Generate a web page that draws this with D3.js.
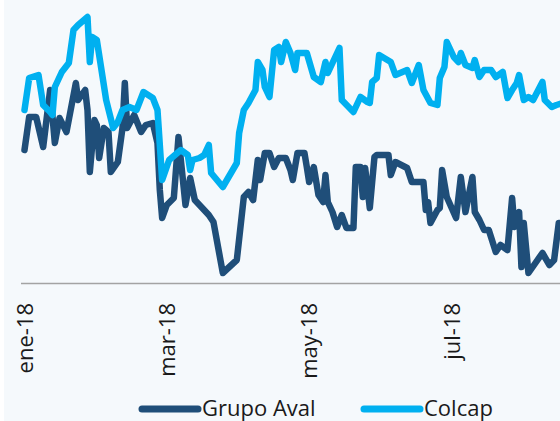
<!DOCTYPE html>
<html>
<head>
<meta charset="utf-8">
<script src="https://cdn.jsdelivr.net/npm/d3@7"></script>
<style>
	body { margin: 0; background: #fff; }
	svg { display: block; font-family: "Open Sans", sans-serif; }
</style>
</head>
<body>
<div id="chart"></div>
<script>
'use strict';

// dias desde el 1 de enero de 2018
var avalDias = [0,2,5,8,11,13,15,18,22,23,26,27,28,30,31,32,34,36,37,40,42,43,44,47,50,52,55,57,58,59,61,64,66,69,71,73,77,79,81,85,91,94,96,98,100,101,103,105,107,109,112,114,115,117,120,121,122,124,126,128,129,130,132,134,136,138,141,142,144,145,146,148,150,151,156,157,159,164,166,171,172,173,174,177,178,179,181,185,187,189,192,193,195,197,199,202,204,207,209,210,212,213,214,216,219,222,225,227,229,231];
var avalValores = [88.3,91.6,91.6,88.6,94.3,89.0,91.5,90.1,95.0,93.3,94.3,92.3,86.1,91.3,90.8,87.5,90.5,90.1,86.1,87.1,90.5,95.0,90.5,91.8,90.1,90.8,91.0,89.0,84.3,81.5,82.8,83.5,89.6,82.8,85.5,83.3,82.3,81.8,81.1,76.0,77.3,83.6,84.1,83.3,87.3,85.3,88.0,88.0,86.6,87.5,87.5,86.3,85.3,88.0,88.0,86.6,85.1,86.6,83.8,83.1,85.8,83.1,82.1,80.6,81.8,80.5,80.5,86.6,86.6,83.6,86.5,82.5,87.6,87.8,87.8,85.8,87.1,86.5,85.1,85.1,82.3,83.1,81.0,82.3,82.5,86.3,83.6,81.5,85.6,82.1,85.6,82.1,81.3,80.3,80.3,78.1,78.8,78.3,83.5,80.6,82.1,76.6,81.0,76.0,77.0,78.0,76.8,77.3,81.0,81.0];

var colcapDias = [0,2,6,8,11,12,13,16,19,21,23,27,28,29,31,35,38,40,42,45,48,51,55,57,59,62,67,70,71,72,75,77,79,80,85,91,92,94,96,99,100,102,103,105,107,109,110,112,114,116,117,121,124,127,129,130,132,135,136,141,144,147,148,149,151,152,157,159,164,166,169,171,174,177,178,180,181,184,186,187,189,192,193,195,197,200,202,205,207,209,211,212,214,216,218,222,223,226,228,231];
var colcapValores = [92.3,95.5,95.8,92.8,92.1,91.8,94.6,96.1,97.0,100.3,100.8,101.6,97.1,99.6,99.3,93.3,90.5,91.1,92.3,92.6,92.3,94.1,93.5,92.3,85.3,87.3,88.3,87.8,86.3,87.3,87.5,87.8,88.8,86.0,84.6,87.0,90.0,92.3,93.0,94.3,97.1,96.3,94.6,93.6,98.3,98.6,97.1,99.1,98.0,96.3,98.0,98.0,95.6,95.1,97.1,96.0,97.0,98.5,93.3,92.1,93.6,93.1,93.0,95.1,95.5,97.8,97.1,95.8,96.3,95.0,96.8,94.3,93.0,92.8,95.5,96.6,99.1,97.6,97.1,98.0,96.8,96.5,97.3,95.6,96.3,96.3,95.6,96.1,93.5,94.3,95.0,95.8,93.3,93.6,93.3,95.1,93.3,92.6,92.8,93.0];

var etiquetasDias = [0, 61, 122, 183];
var etiquetas = ["ene-18", "mar-18", "may-18", "jul-18"];

var series = ["Grupo Aval", "Colcap"];
var colores = ["#1f4e79", "#00b0f0"];

var width = 560, height = 421;
var svg = d3.select("#chart").append("svg")
	.attr("width", width)
	.attr("height", height);

svg.append("rect")
	.attr("x", 4)
	.attr("y", 0)
	.attr("width", width - 4)
	.attr("height", height)
	.attr("fill", "#f5f9fc");

var x = d3.scaleLinear().domain([0, 230]).range([24.5, 561.1]);
var y = d3.scaleLinear().domain([75, 103.3]).range([283, 0]);

var xAxis = d3.axisBottom(x)
	.tickValues(etiquetasDias)
	.tickSize(0)
	.tickFormat(function(d, i){ return etiquetas[i]; });

var gx = svg.append("g")
	.attr("transform", "translate(0," + 283.5 + ")")
	.call(xAxis);
gx.select(".domain")
	.attr("d", "M21,0H" + width)
	.attr("stroke", "#a3a3a3")
	.attr("stroke-width", 1.5);
gx.selectAll(".tick text")
	.attr("transform", "translate(0,19.5) rotate(-90)")
	.attr("x", 0)
	.attr("y", 0)
	.attr("dy", "0.35em")
	.attr("text-anchor", "end")
	.attr("font-size", 22)
	.attr("font-family", "'Open Sans', sans-serif")
	.attr("fill", "#1a1a1a");

var line = d3.line()
	.x(function(d){ return x(d[0]); })
	.y(function(d){ return y(d[1]); })
	.curve(d3.curveLinear);

var datos = [
	d3.zip(avalDias, avalValores),
	d3.zip(colcapDias, colcapValores)
];

svg.selectAll(".serie")
	.data(datos)
	.enter().append("path")
	.attr("class", "serie")
	.attr("d", line)
	.attr("fill", "none")
	.attr("stroke", function(d, i){ return colores[i]; })
	.attr("stroke-width", 6.5)
	.attr("stroke-linejoin", "round")
	.attr("stroke-linecap", "round");

// leyenda
var leyendaX = [142, 364];
var leyenda = svg.selectAll(".leyenda")
	.data(series)
	.enter().append("g")
	.attr("class", "leyenda")
	.attr("transform", function(d, i){ return "translate(" + leyendaX[i] + ",409)"; });
leyenda.append("line")
	.attr("x1", 0)
	.attr("x2", 56)
	.attr("stroke", function(d, i){ return colores[i]; })
	.attr("stroke-width", 7)
	.attr("stroke-linecap", "round");
leyenda.append("text")
	.attr("x", 60)
	.attr("y", 7)
	.attr("font-size", 22)
	.attr("fill", "#1a1a1a")
	.text(function(d){ return d; });
</script>
</body>
</html>
